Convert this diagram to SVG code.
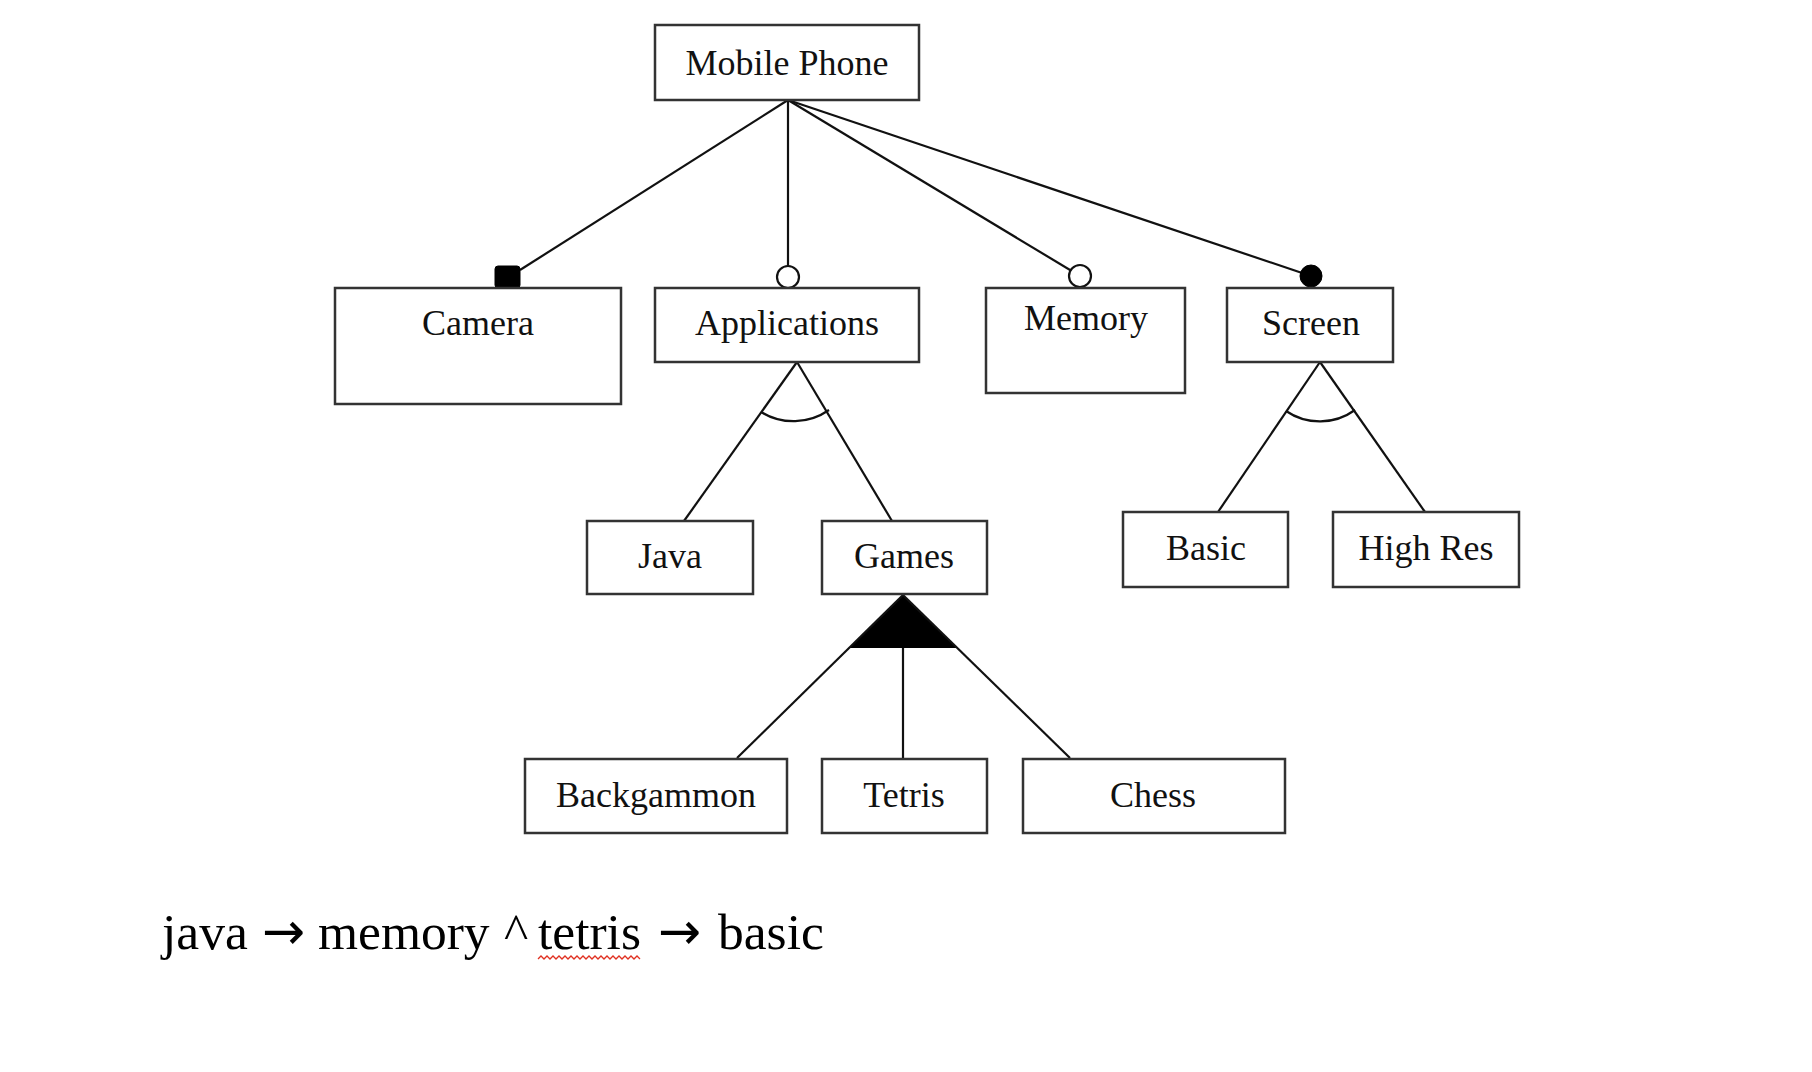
<svg xmlns="http://www.w3.org/2000/svg" width="1812" height="1072" viewBox="0 0 1812 1072">
<style>
.box{fill:#fff;stroke:#333;stroke-width:2.5}
.lbl{font-family:"Liberation Serif","Times New Roman",serif;font-size:36px;fill:#111;text-anchor:middle}
.ln{stroke:#111;stroke-width:2.2;fill:none}
.opt{fill:#fff;stroke:#111;stroke-width:2.2}
.man{fill:#000;stroke:#000;stroke-width:1}
.arr{font-family:"DejaVu Sans",sans-serif}
</style>
<rect width="1812" height="1072" fill="#fff"/>
<g id="connectors">
  <line class="ln" x1="788" y1="100" x2="520" y2="270"/>
  <line class="ln" x1="788" y1="100" x2="788" y2="277"/>
  <line class="ln" x1="788" y1="100" x2="1080" y2="276"/>
  <line class="ln" x1="788" y1="100" x2="1311" y2="276"/>
  <rect class="man" x="495" y="266" width="25" height="22" rx="3"/>
  <circle class="opt" cx="788" cy="277" r="11"/>
  <circle class="opt" cx="1080" cy="276" r="11"/>
  <circle class="man" cx="1311" cy="276" r="11"/>
  <line class="ln" x1="797" y1="362" x2="684" y2="521"/>
  <line class="ln" x1="797" y1="362" x2="892" y2="521"/>
  <path class="ln" d="M 761 412 A 62 62 0 0 0 829 410"/>
  <line class="ln" x1="1320" y1="362" x2="1218" y2="512"/>
  <line class="ln" x1="1320" y1="362" x2="1425" y2="512"/>
  <path class="ln" d="M 1286 411 A 60 60 0 0 0 1355 410"/>
  <polygon points="903,595 849,648 957,648" fill="#000"/>
  <line class="ln" x1="903" y1="595" x2="737" y2="758"/>
  <line class="ln" x1="903" y1="648" x2="903" y2="758"/>
  <line class="ln" x1="903" y1="595" x2="1070" y2="758"/>
</g>
<g id="mobile-phone"><rect class="box" x="655" y="25" width="264" height="75"/><text class="lbl" x="787" y="75">Mobile Phone</text></g>
<g id="camera"><rect class="box" x="335" y="288" width="286" height="116"/><text class="lbl" x="478" y="335">Camera</text></g>
<g id="applications"><rect class="box" x="655" y="288" width="264" height="74"/><text class="lbl" x="787" y="335">Applications</text></g>
<g id="memory"><rect class="box" x="986" y="288" width="199" height="105"/><text class="lbl" x="1086" y="330">Memory</text></g>
<g id="screen"><rect class="box" x="1227" y="288" width="166" height="74"/><text class="lbl" x="1311" y="335">Screen</text></g>
<g id="java"><rect class="box" x="587" y="521" width="166" height="73"/><text class="lbl" x="670" y="568">Java</text></g>
<g id="games"><rect class="box" x="822" y="521" width="165" height="73"/><text class="lbl" x="904" y="568">Games</text></g>
<g id="basic"><rect class="box" x="1123" y="512" width="165" height="75"/><text class="lbl" x="1206" y="560">Basic</text></g>
<g id="high-res"><rect class="box" x="1333" y="512" width="186" height="75"/><text class="lbl" x="1426" y="560">High Res</text></g>
<g id="backgammon"><rect class="box" x="525" y="759" width="262" height="74"/><text class="lbl" x="656" y="807">Backgammon</text></g>
<g id="tetris"><rect class="box" x="822" y="759" width="165" height="74"/><text class="lbl" x="904" y="807">Tetris</text></g>
<g id="chess"><rect class="box" x="1023" y="759" width="262" height="74"/><text class="lbl" x="1153" y="807">Chess</text></g>
<g id="constraint">
  <text y="949" font-family="'Liberation Serif','Times New Roman',serif" font-size="51.5" fill="#000"><tspan x="162">java</tspan><tspan class="arr" x="262">→</tspan><tspan x="318">memory</tspan><tspan x="504">^</tspan><tspan x="538">tetris</tspan><tspan class="arr" x="658">→</tspan><tspan x="718">basic</tspan></text>
  <path d="M538 959 l3 -3 l3 3 l3 -3 l3 3 l3 -3 l3 3 l3 -3 l3 3 l3 -3 l3 3 l3 -3 l3 3 l3 -3 l3 3 l3 -3 l3 3 l3 -3 l3 3 l3 -3 l3 3 l3 -3 l3 3 l3 -3 l3 3 l3 -3 l3 3 l3 -3 l3 3 l3 -3 l3 3 l3 -3 l3 3 l3 -3 l3 3" fill="none" stroke="#e03020" stroke-width="1.3"/>
</g>
</svg>
